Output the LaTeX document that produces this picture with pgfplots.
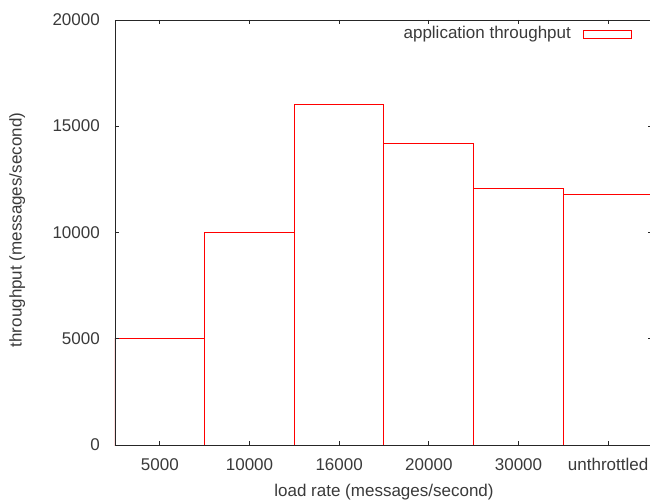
\documentclass[border=0pt]{standalone}
\usepackage{fontspec}
\setmainfont{Liberation Sans}
\usepackage{pgfplots}
\pgfplotsset{compat=1.18}
\definecolor{txt}{HTML}{3A3A3A}
\begin{document}
\begin{tikzpicture}[font=\fontsize{17}{20}\selectfont]
\begin{axis}[
  at={(0pt,0pt)}, anchor=south west,
  scale only axis, width=538pt, height=425pt,
  xmin=-0.5, xmax=5.5, ymin=0, ymax=20000,
  ybar, bar width=1,
  scaled y ticks=false,
  xtick={0,1,2,3,4,5},
  xticklabels={5000,10000,16000,20000,30000,unthrottled},
  ytick={0,5000,10000,15000,20000},
  yticklabels={0,5000,10000,15000,20000},
  tick align=inside, major tick length=4.5pt,
  tick style={black!85, line width=0.9pt},
  axis line style={black!85, line width=0.9pt},
  axis on top,
  x tick label style={anchor=base, yshift=-25.5pt, inner sep=0pt, text=txt},
  y tick label style={anchor=base east, xshift=-15pt, yshift=-5.5pt, inner sep=0pt, text=txt},
  xlabel={load rate (messages/second)},
  ylabel={throughput (messages/second)},
  every axis x label/.style={at={(axis description cs:0.5,0)}, yshift=-51.5pt, anchor=base, inner sep=0pt, text=txt},
  every axis y label/.style={at={(axis description cs:0,0.5)}, xshift=-93.3pt, yshift=2.5pt, rotate=90, anchor=base, inner sep=0pt, text=txt},
  legend plot pos=right,
  legend style={draw=none, fill=none, at={(rel axis cs:1,1)}, anchor=north east,
    xshift=-20.5pt, yshift=-6pt, inner sep=0pt, outer sep=0pt, column sep=12.6pt,
    cells={anchor=base}, nodes={inner sep=0pt, text=txt}},
]
\addplot[draw=red, fill=none, line width=1pt,
  legend image code/.code={\draw[red, line width=1pt] (0pt,-0.2pt) rectangle (48pt,8.2pt);}]
  coordinates {(0,5000) (1,10000) (2,16000) (3,14200) (4,12080) (5,11800)};
\addlegendentry{application throughput}
\end{axis}
\pgfresetboundingbox
\useasboundingbox (-115pt,-56pt) rectangle (535pt,445pt);
\end{tikzpicture}
\end{document}
